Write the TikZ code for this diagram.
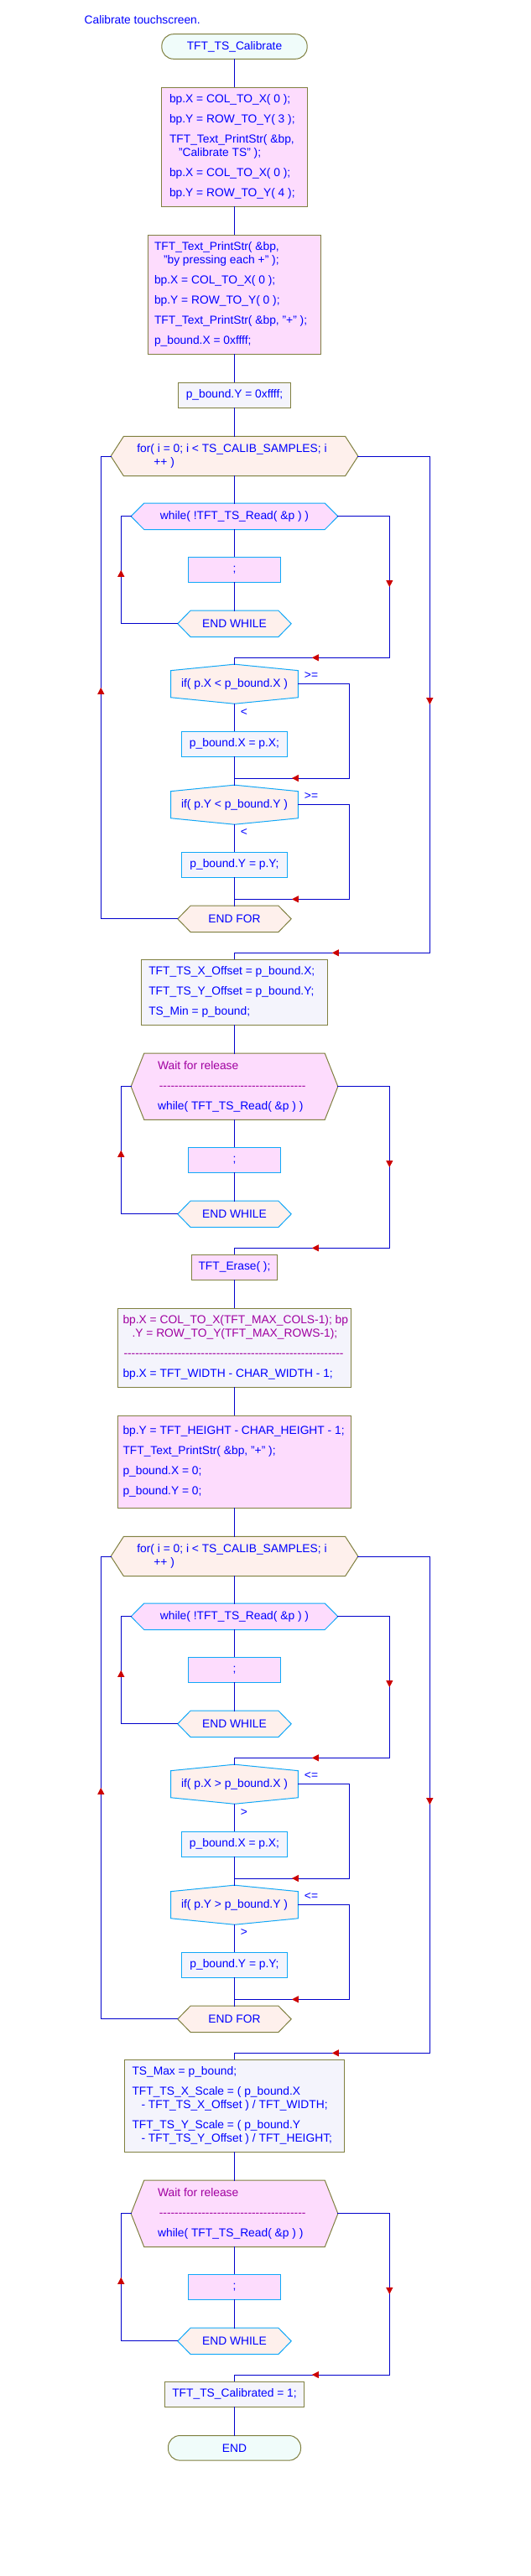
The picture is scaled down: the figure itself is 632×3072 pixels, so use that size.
\documentclass[tikz,border=0pt]{standalone}
\usepackage{fontspec}
\setmainfont{Liberation Sans}
\usepackage{tikz}
\usetikzlibrary{arrows.meta, decorations.markings}
\definecolor{codeblue}{HTML}{0000FF}
\definecolor{wireblue}{HTML}{0000CC}
\definecolor{notepurple}{HTML}{A000A0}
\definecolor{boxolive}{HTML}{808040}
\definecolor{loopcyan}{HTML}{10A8F8}
\definecolor{stmtpink}{HTML}{FDDCFD}
\definecolor{stmtlav}{HTML}{F4F4FC}
\definecolor{ctrlpeach}{HTML}{FEF0EC}
\definecolor{termmint}{HTML}{F0FCFA}
\definecolor{arrowred}{HTML}{CC0000}
\pgfdeclarelayer{outlines}
\pgfsetlayers{outlines,main}

% hexagon under a node: name, point length, style
\newcommand{\hexbg}[3]{%
  \begin{pgfonlayer}{outlines}
    \path[#3] (#1.west) -- ([xshift=#2]#1.north west) -- ([xshift=-#2]#1.north east)
      -- (#1.east) -- ([xshift=-#2]#1.south east) -- ([xshift=#2]#1.south west) -- cycle;
  \end{pgfonlayer}}
% decision outline under a node: name, peak height, style
\newcommand{\ifbg}[3]{%
  \begin{pgfonlayer}{outlines}
    \path[#3] (#1.north) -- ([yshift=-#2]#1.north east) -- ([yshift=#2]#1.south east)
      -- (#1.south) -- ([yshift=#2]#1.south west) -- ([yshift=-#2]#1.north west) -- cycle;
  \end{pgfonlayer}}
% row of dashes
\newcommand{\dashrow}[1]{\leavevmode{\color{notepurple}\hbox to #1{\cleaders\hbox{-}\hfill}}}

\begin{document}
\begin{tikzpicture}[
    x=1pt, y=-1pt,
    font=\fontsize{13.8}{16}\selectfont,
    wire/.style={draw=wireblue, line width=1pt, line cap=rect},
    midarr/.style={postaction={decorate}, decoration={markings,
        mark=at position 0.5 with {\arrow{Triangle[length=8pt, width=8pt, color=arrowred]}}}},
    termbox/.style={rectangle, rounded corners=14pt, draw=boxolive, fill=termmint,
        line width=1pt, minimum height=29.6pt, text=codeblue},
    codebox/.style={rectangle, draw=boxolive, line width=1pt, text=codeblue,
        inner ysep=0pt, align=flush left},
    pinkbox/.style={codebox, fill=stmtpink},
    lavbox/.style={codebox, fill=stmtlav},
    loopbox/.style={rectangle, draw=loopcyan, line width=1pt, text=codeblue,
        minimum height=30pt},
    hexnode/.style={rectangle, inner ysep=0pt, text=codeblue},
    olivepeach/.style={draw=boxolive, fill=ctrlpeach, line width=1pt},
    olivepink/.style={draw=boxolive, fill=stmtpink, line width=1pt},
    cyanpeach/.style={draw=loopcyan, fill=ctrlpeach, line width=1pt},
    cyanpink/.style={draw=loopcyan, fill=stmtpink, line width=1pt},
    lbl/.style={text=codeblue, inner sep=0pt},
]

\begin{pgfonlayer}{outlines}
  \fill[white] (0,0) rectangle (632,3072);
\end{pgfonlayer}
\useasboundingbox (0,0) rectangle (632,3072);

% rails of the loops
\coordinate (forrail) at (120.3,0);
\coordinate (backrail) at (144.3,0);
\coordinate (ifrail) at (416.3,0);
\coordinate (exitrail) at (464.3,0);
\coordinate (donerail) at (512.3,0);

% -- Head --
\node[lbl, anchor=west] (title) at (100.5,24) {Calibrate touchscreen.};
\node[termbox, minimum width=173.3pt] (start) at (279.5,55.5) {TFT\_TS\_Calibrate};

\node[pinkbox, minimum height=142pt, text width=155pt, inner xsep=9.5pt] (b1) at (279.5,175.3) {%
    bp.X = COL\_TO\_X( 0 );\\[8pt]
    bp.Y = ROW\_TO\_Y( 3 );\\[8pt]
    TFT\_Text\_PrintStr( \&bp,\\
    \hspace*{11pt}"Calibrate TS" );\\[8pt]
    bp.X = COL\_TO\_X( 0 );\\[8pt]
    bp.Y = ROW\_TO\_Y( 4 );};

\node[pinkbox, minimum height=142pt, text width=191pt, inner xsep=7.5pt] (b2) at (279.5,351.3) {%
    TFT\_Text\_PrintStr( \&bp,\\
    \hspace*{11pt}"by pressing each +" );\\[8pt]
    bp.X = COL\_TO\_X( 0 );\\[8pt]
    bp.Y = ROW\_TO\_Y( 0 );\\[8pt]
    TFT\_Text\_PrintStr( \&bp, "+" );\\[8pt]
    p\_bound.X = 0xffff;};

\node[lavbox, minimum width=134.4pt, minimum height=30pt] (b3) at (279.5,471.3) {p\_bound.Y = 0xffff;};

% -- First sampling loop (minimum) --
\node[hexnode, minimum width=294.3pt, minimum height=47pt, text width=232.3pt, inner xsep=31pt,
    align=flush left] (for1) at (279.5,544) {%
    for( i = 0; i < TS\_CALIB\_SAMPLES; i\\
    \hspace*{20pt}++ )};
\hexbg{for1}{15.3pt}{olivepeach}

\node[hexnode, minimum width=246.3pt, minimum height=31pt] (wh1) at (279.5,615.8) {while( !TFT\_TS\_Read( \&p ) )};
\hexbg{wh1}{15.6pt}{cyanpink}
\node[loopbox, fill=stmtpink, minimum width=110.7pt] (semi1) at (279.5,679.3) {;};
\node[hexnode, minimum width=135pt, minimum height=31pt] (ew1) at (279.5,743.8) {END WHILE};
\hexbg{ew1}{15.3pt}{cyanpeach}
\coordinate (jn1) at (279.5,784.3);

\node[hexnode, minimum width=151.4pt, minimum height=46.7pt] (if1) at (279.5,815.7) {if( p.X < p\_bound.X )};
\ifbg{if1}{7.5pt}{cyanpeach}
\node[lbl] (ge1) at (371,805.3) {>=};
\node[lbl] (lt1) at (291,849) {<};
\node[loopbox, fill=stmtlav, minimum width=126pt] (px1) at (279.5,887.3) {p\_bound.X = p.X;};
\coordinate (jn2) at (279.5,928);

\node[hexnode, minimum width=151.4pt, minimum height=46.7pt] (if2) at (279.5,959.7) {if( p.Y < p\_bound.Y )};
\ifbg{if2}{7.5pt}{cyanpeach}
\node[lbl] (ge2) at (371,949.3) {>=};
\node[lbl] (lt2) at (291,992.7) {<};
\node[loopbox, fill=stmtlav, minimum width=126pt] (py1) at (279.5,1031.3) {p\_bound.Y = p.Y;};
\coordinate (jn3) at (279.5,1072.3);

\node[hexnode, minimum width=135pt, minimum height=31pt] (ef1) at (279.5,1095.8) {END FOR};
\hexbg{ef1}{15.3pt}{olivepeach}
\coordinate (jn4) at (279.5,1136.3);

\node[lavbox, minimum height=78pt, text width=204.4pt, inner xsep=9pt] (b4) at (279.5,1183.3) {%
    TFT\_TS\_X\_Offset = p\_bound.X;\\[8pt]
    TFT\_TS\_Y\_Offset = p\_bound.Y;\\[8pt]
    TS\_Min = p\_bound;};

% -- Release wait --
\node[hexnode, minimum width=246.3pt, minimum height=78.7pt, text width=182.7pt, inner xsep=31.8pt,
    align=flush left] (wr1) at (279.5,1295.7) {%
    {\color{notepurple}Wait for release}\\[8pt]
    \dashrow{178pt}\\[8pt]
    while( TFT\_TS\_Read( \&p ) )};
\hexbg{wr1}{15.6pt}{olivepink}
\node[loopbox, fill=stmtpink, minimum width=110.7pt] (semi2) at (279.5,1383.3) {;};
\node[hexnode, minimum width=135pt, minimum height=31pt] (ew2) at (279.5,1447.8) {END WHILE};
\hexbg{ew2}{15.3pt}{cyanpeach}
\coordinate (jn5) at (279.5,1488.3);

\node[pinkbox, minimum width=102pt, minimum height=30pt] (er) at (279.5,1511.3) {TFT\_Erase( );};

\node[lavbox, minimum height=94pt, text width=266pt, inner xsep=6pt] (b5) at (279.5,1607.3) {%
    {\color{notepurple}\mbox{bp.X = COL\_TO\_X(TFT\_MAX\_COLS-1); bp}}\\
    {\color{notepurple}\hspace*{11pt}.Y = ROW\_TO\_Y(TFT\_MAX\_ROWS-1);}\\[8pt]
    \dashrow{264pt}\\[8pt]
    bp.X = TFT\_WIDTH - CHAR\_WIDTH - 1;};

\node[pinkbox, minimum height=110pt, text width=266pt, inner xsep=6pt] (b6) at (279.5,1743.3) {%
    \mbox{bp.Y = TFT\_HEIGHT - CHAR\_HEIGHT - 1;}\\[8pt]
    TFT\_Text\_PrintStr( \&bp, "+" );\\[8pt]
    p\_bound.X = 0;\\[8pt]
    p\_bound.Y = 0;};

% -- Second sampling loop (maximum) --
\node[hexnode, minimum width=294.3pt, minimum height=47pt, text width=232.3pt, inner xsep=31pt,
    align=flush left] (for2) at (279.5,1856) {%
    for( i = 0; i < TS\_CALIB\_SAMPLES; i\\
    \hspace*{20pt}++ )};
\hexbg{for2}{15.3pt}{olivepeach}

\node[hexnode, minimum width=246.3pt, minimum height=31pt] (wh2) at (279.5,1927.8) {while( !TFT\_TS\_Read( \&p ) )};
\hexbg{wh2}{15.6pt}{cyanpink}
\node[loopbox, fill=stmtpink, minimum width=110.7pt] (semi3) at (279.5,1991.3) {;};
\node[hexnode, minimum width=135pt, minimum height=31pt] (ew3) at (279.5,2055.8) {END WHILE};
\hexbg{ew3}{15.3pt}{cyanpeach}
\coordinate (jn6) at (279.5,2096.3);

\node[hexnode, minimum width=151.4pt, minimum height=46.7pt] (if3) at (279.5,2127.7) {if( p.X > p\_bound.X )};
\ifbg{if3}{7.5pt}{cyanpeach}
\node[lbl] (le3) at (371,2117.3) {<=};
\node[lbl] (gt3) at (291,2161) {>};
\node[loopbox, fill=stmtlav, minimum width=126pt] (px2) at (279.5,2199.3) {p\_bound.X = p.X;};
\coordinate (jn7) at (279.5,2240);

\node[hexnode, minimum width=151.4pt, minimum height=46.7pt] (if4) at (279.5,2271.7) {if( p.Y > p\_bound.Y )};
\ifbg{if4}{7.5pt}{cyanpeach}
\node[lbl] (le4) at (371,2261.3) {<=};
\node[lbl] (gt4) at (291,2304.7) {>};
\node[loopbox, fill=stmtlav, minimum width=126pt] (py2) at (279.5,2343.3) {p\_bound.Y = p.Y;};
\coordinate (jn8) at (279.5,2384.3);

\node[hexnode, minimum width=135pt, minimum height=31pt] (ef2) at (279.5,2407.8) {END FOR};
\hexbg{ef2}{15.3pt}{olivepeach}
\coordinate (jn9) at (279.5,2448.3);

\node[lavbox, minimum height=110pt, text width=244pt, inner xsep=9pt] (b7) at (279.5,2511.3) {%
    TS\_Max = p\_bound;\\[8pt]
    TFT\_TS\_X\_Scale = ( p\_bound.X\\
    \hspace*{11pt}- TFT\_TS\_X\_Offset ) / TFT\_WIDTH;\\[8pt]
    TFT\_TS\_Y\_Scale = ( p\_bound.Y\\
    \hspace*{11pt}- TFT\_TS\_Y\_Offset ) / TFT\_HEIGHT;};

% -- Second release wait --
\node[hexnode, minimum width=246.3pt, minimum height=79pt, text width=182.7pt, inner xsep=31.8pt,
    align=flush left] (wr2) at (279.5,2639.8) {%
    {\color{notepurple}Wait for release}\\[8pt]
    \dashrow{178pt}\\[8pt]
    while( TFT\_TS\_Read( \&p ) )};
\hexbg{wr2}{15.6pt}{olivepink}
\node[loopbox, fill=stmtpink, minimum width=110.7pt] (semi4) at (279.5,2727.3) {;};
\node[hexnode, minimum width=135pt, minimum height=31pt] (ew4) at (279.5,2791.8) {END WHILE};
\hexbg{ew4}{15.3pt}{cyanpeach}
\coordinate (jn10) at (279.5,2832);

% -- Tail --
\node[lavbox, minimum width=166pt, minimum height=30pt] (cal) at (279.5,2855.3) {TFT\_TS\_Calibrated = 1;};
\node[termbox, minimum width=158pt] (endt) at (279.5,2919.3) {END};

% ============ CONNECTORS ============
\draw[wire] (start.south) -- (b1.north);
\draw[wire] (b1.south) -- (b2.north);
\draw[wire] (b2.south) -- (b3.north);
\draw[wire] (b3.south) -- (for1.north);
\draw[wire] (for1.south) -- (wh1.north);
\draw[wire] (wh1.south) -- (semi1.north);
\draw[wire] (semi1.south) -- (ew1.north);
\draw[wire] (ew1.west) -- (ew1.west -| backrail);
\draw[wire, midarr] (ew1.west -| backrail) -- (wh1.west -| backrail);
\draw[wire] (wh1.west -| backrail) -- (wh1.west);
\draw[wire] (wh1.east) -- (wh1.east -| exitrail);
\draw[wire, midarr] (wh1.east -| exitrail) -- (jn1 -| exitrail);
\draw[wire, midarr] (jn1 -| exitrail) -- (jn1);
\draw[wire] (jn1) -- (if1.north);
\draw[wire] (if1.south) -- (px1.north);
\draw[wire] (px1.south) -- (jn2) -- (if2.north);
\draw[wire] (if1.east) -- (if1.east -| ifrail) -- (jn2 -| ifrail);
\draw[wire, midarr] (jn2 -| ifrail) -- (jn2);
\draw[wire] (if2.south) -- (py1.north);
\draw[wire] (py1.south) -- (jn3) -- (ef1.north);
\draw[wire] (if2.east) -- (if2.east -| ifrail) -- (jn3 -| ifrail);
\draw[wire, midarr] (jn3 -| ifrail) -- (jn3);
\draw[wire] (ef1.west) -- (ef1.west -| forrail);
\draw[wire, midarr] (ef1.west -| forrail) -- (for1.west -| forrail);
\draw[wire] (for1.west -| forrail) -- (for1.west);
\draw[wire] (for1.east) -- (for1.east -| donerail);
\draw[wire, midarr] (for1.east -| donerail) -- (jn4 -| donerail);
\draw[wire, midarr] (jn4 -| donerail) -- (jn4);
\draw[wire] (jn4) -- (b4.north);

\draw[wire] (b4.south) -- (wr1.north);
\draw[wire] (wr1.south) -- (semi2.north);
\draw[wire] (semi2.south) -- (ew2.north);
\draw[wire] (ew2.west) -- (ew2.west -| backrail);
\draw[wire, midarr] (ew2.west -| backrail) -- (wr1.west -| backrail);
\draw[wire] (wr1.west -| backrail) -- (wr1.west);
\draw[wire] (wr1.east) -- (wr1.east -| exitrail);
\draw[wire, midarr] (wr1.east -| exitrail) -- (jn5 -| exitrail);
\draw[wire, midarr] (jn5 -| exitrail) -- (jn5);
\draw[wire] (jn5) -- (er.north);
\draw[wire] (er.south) -- (b5.north);
\draw[wire] (b5.south) -- (b6.north);
\draw[wire] (b6.south) -- (for2.north);

\draw[wire] (for2.south) -- (wh2.north);
\draw[wire] (wh2.south) -- (semi3.north);
\draw[wire] (semi3.south) -- (ew3.north);
\draw[wire] (ew3.west) -- (ew3.west -| backrail);
\draw[wire, midarr] (ew3.west -| backrail) -- (wh2.west -| backrail);
\draw[wire] (wh2.west -| backrail) -- (wh2.west);
\draw[wire] (wh2.east) -- (wh2.east -| exitrail);
\draw[wire, midarr] (wh2.east -| exitrail) -- (jn6 -| exitrail);
\draw[wire, midarr] (jn6 -| exitrail) -- (jn6);
\draw[wire] (jn6) -- (if3.north);
\draw[wire] (if3.south) -- (px2.north);
\draw[wire] (px2.south) -- (jn7) -- (if4.north);
\draw[wire] (if3.east) -- (if3.east -| ifrail) -- (jn7 -| ifrail);
\draw[wire, midarr] (jn7 -| ifrail) -- (jn7);
\draw[wire] (if4.south) -- (py2.north);
\draw[wire] (py2.south) -- (jn8) -- (ef2.north);
\draw[wire] (if4.east) -- (if4.east -| ifrail) -- (jn8 -| ifrail);
\draw[wire, midarr] (jn8 -| ifrail) -- (jn8);
\draw[wire] (ef2.west) -- (ef2.west -| forrail);
\draw[wire, midarr] (ef2.west -| forrail) -- (for2.west -| forrail);
\draw[wire] (for2.west -| forrail) -- (for2.west);
\draw[wire] (for2.east) -- (for2.east -| donerail);
\draw[wire, midarr] (for2.east -| donerail) -- (jn9 -| donerail);
\draw[wire, midarr] (jn9 -| donerail) -- (jn9);
\draw[wire] (jn9) -- (b7.north);

\draw[wire] (b7.south) -- (wr2.north);
\draw[wire] (wr2.south) -- (semi4.north);
\draw[wire] (semi4.south) -- (ew4.north);
\draw[wire] (ew4.west) -- (ew4.west -| backrail);
\draw[wire, midarr] (ew4.west -| backrail) -- (wr2.west -| backrail);
\draw[wire] (wr2.west -| backrail) -- (wr2.west);
\draw[wire] (wr2.east) -- (wr2.east -| exitrail);
\draw[wire, midarr] (wr2.east -| exitrail) -- (jn10 -| exitrail);
\draw[wire, midarr] (jn10 -| exitrail) -- (jn10);
\draw[wire] (jn10) -- (cal.north);
\draw[wire] (cal.south) -- (endt.north);

\end{tikzpicture}
\end{document}
